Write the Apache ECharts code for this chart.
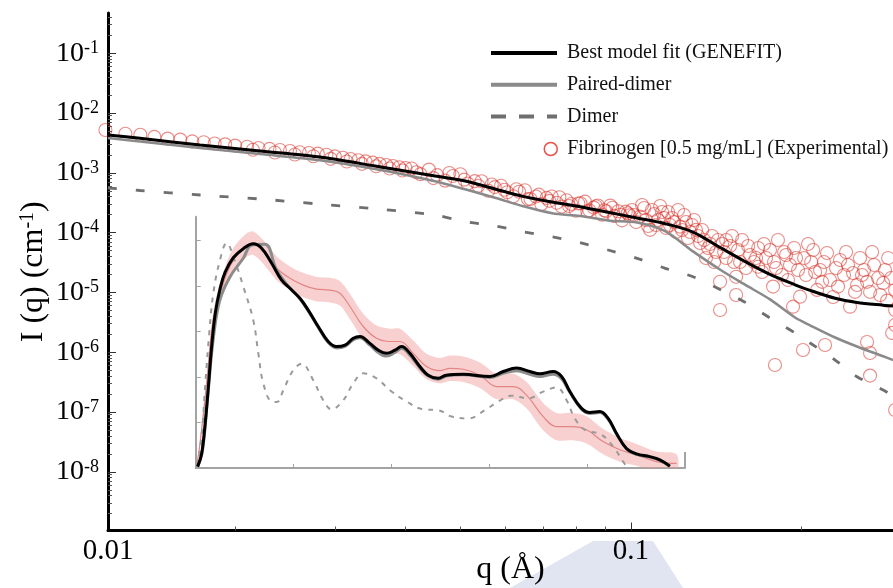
<!DOCTYPE html>
<html>
<head>
<meta charset="utf-8">
<script src="https://cdn.jsdelivr.net/npm/echarts@6/dist/echarts.min.js"></script>
<style>
  html, body { margin: 0; padding: 0; background: #fff; }
  #chart { width: 893px; height: 588px; }
</style>
</head>
<body>
<div id="chart"></div>
<script>
// ---- Scattering curves, I(q) in cm^-1 versus q in 1/Å ----
const modelQ = [0.01192, 0.01358, 0.01734, 0.02213, 0.02803, 0.03577, 0.04511, 0.05098, 0.05757, 0.0645,
  0.07261, 0.08135, 0.09118, 0.1026, 0.115, 0.1288, 0.1444, 0.1586, 0.1762, 0.1951,
  0.2074, 0.2296, 0.251, 0.2792, 0.2906];
const fitI = [4.287e-3, 3.776e-3, 2.917e-3, 2.314e-3, 1.852e-3, 1.275e-3, 8.842e-4, 7.293e-4, 5.359e-4, 4.031e-4,
  3.249e-4, 2.711e-4, 2.185e-4, 1.754e-4, 1.409e-4, 1.023e-4, 5.526e-5, 3.351e-5, 2.0e-5, 1.34e-5,
  1.08e-5, 7.965e-6, 6.752e-6, 6.109e-6, 5.923e-6];
const pairedDimerI = [3.819e-3, 3.338e-3, 2.598e-3, 2.062e-3, 1.637e-3, 1.136e-3, 7.209e-4, 5.298e-4, 3.819e-4, 2.764e-4,
  2.110e-4, 1.895e-4, 1.594e-4, 1.475e-4, 1.055e-4, 4.849e-5, 2.342e-5, 1.371e-5, 7.637e-6, 3.805e-6,
  2.817e-6, 1.761e-6, 1.245e-6, 8.54e-7, 7.40e-7];
const dimerI = [5.568e-4, 5.058e-4, 4.254e-4, 3.647e-4, 3.008e-4, 2.480e-4, 1.969e-4, 1.522e-4, 1.289e-4, 1.035e-4,
  8.54e-5, 6.78e-5, 5.117e-5, 3.717e-5, 2.529e-5, 1.830e-5, 1.097e-5, 6.99e-6, 3.732e-6, 2.095e-6,
  1.425e-6, 7.40e-7, 3.894e-7, 2.333e-7, 1.852e-7];

// Measured fibrinogen intensities (0.5 mg/mL)
const expQ = [
  0.0118, 0.0128, 0.0136, 0.0144, 0.0152, 0.0160, 0.0168, 0.0176, 0.0184, 0.0192,
  0.0200, 0.0210, 0.0220, 0.0230, 0.0240, 0.0250, 0.0260, 0.0270, 0.0280, 0.0290,
  0.0300, 0.0310, 0.0320, 0.0330, 0.0340, 0.0350, 0.0360, 0.0370, 0.0380, 0.0390, 0.0400,
  0.0215, 0.0235, 0.0255, 0.0275, 0.0295, 0.0315, 0.0335, 0.0355, 0.0375, 0.0395,
  0.0410, 0.0425, 0.0440, 0.0455, 0.0470, 0.0485, 0.0500, 0.0515, 0.0530, 0.0545,
  0.0560, 0.0575, 0.0590, 0.0605, 0.0620, 0.0635, 0.0650, 0.0665, 0.0680, 0.0695,
  0.0710, 0.0725, 0.0740, 0.0755, 0.0770, 0.0785, 0.0800, 0.0815, 0.0830, 0.0845,
  0.0860, 0.0875, 0.0890, 0.0905, 0.0920, 0.0935, 0.0950, 0.0965, 0.0980, 0.0995,
  0.0418, 0.0448, 0.0478, 0.0508, 0.0538, 0.0568, 0.0598, 0.0628, 0.0658, 0.0688,
  0.0718, 0.0748, 0.0778, 0.0808, 0.0838, 0.0868, 0.0898, 0.0928, 0.0958, 0.0988,
  0.1005, 0.1022, 0.1038, 0.1056, 0.1073, 0.1082, 0.1100, 0.1117, 0.1136, 0.1155,
  0.1173, 0.1183, 0.1202, 0.1222, 0.1242, 0.1262, 0.1283, 0.1304, 0.1326, 0.1348,
  0.1370, 0.1392, 0.1415, 0.1438, 0.1438, 0.1450, 0.1474, 0.1474, 0.1498, 0.1522,
  0.1535, 0.1535, 0.1547, 0.1573, 0.1598, 0.1625, 0.1651, 0.1679, 0.1679, 0.1706,
  0.1734, 0.1762, 0.1784, 0.1791, 0.1798, 0.1820, 0.1850, 0.1881, 0.1911, 0.1935,
  0.1943, 0.1975, 0.1991, 0.2015, 0.2024, 0.2057, 0.2100, 0.2134, 0.2160, 0.2195,
  0.2204, 0.2222, 0.2249, 0.2277, 0.2305, 0.2343, 0.2381, 0.2420, 0.2440, 0.2470,
  0.2511, 0.2541, 0.2583, 0.2615, 0.2615, 0.2647, 0.2647, 0.2647, 0.2691, 0.2735,
  0.2792, 0.2837, 0.2849, 0.2884, 0.2896, 0.2931, 0.2931, 0.2931, 0.2931,
  0.1013, 0.1047, 0.1064, 0.1090, 0.1108, 0.1127, 0.1145, 0.1164, 0.1193, 0.1212,
  0.1232, 0.1252, 0.1273, 0.1294, 0.1315, 0.1337, 0.1358, 0.1381, 0.1404, 0.1426,
  0.1462, 0.1510, 0.1560, 0.1612, 0.1665, 0.1719, 0.1806, 0.1866, 0.1896, 0.1959,
  0.2040, 0.2083, 0.2117, 0.2178, 0.2324, 0.2401, 0.2490, 0.2562, 0.2669, 0.2758, 0.2813
];
const expI = [
  5.2e-3, 4.49e-3, 4.32e-3, 3.98e-3, 3.73e-3, 3.59e-3, 3.35e-3, 3.24e-3, 3.09e-3, 2.99e-3,
  2.85e-3, 2.72e-3, 2.60e-3, 2.51e-3, 2.40e-3, 2.32e-3, 2.21e-3, 2.14e-3, 2.09e-3, 2.00e-3,
  1.88e-3, 1.78e-3, 1.70e-3, 1.62e-3, 1.55e-3, 1.48e-3, 1.41e-3, 1.35e-3, 1.30e-3, 1.24e-3, 1.20e-3,
  2.434e-3, 2.187e-3, 2.025e-3, 1.886e-3, 1.712e-3, 1.548e-3, 1.409e-3, 1.289e-3, 1.183e-3, 1.090e-3,
  1.180e-3, 9.49e-4, 1.131e-3, 9.13e-4, 7.39e-4, 8.85e-4, 9.47e-4, 6.63e-4, 7.25e-4, 7.23e-4,
  5.01e-4, 5.76e-4, 6.06e-4, 4.73e-4, 4.06e-4, 4.81e-4, 5.12e-4, 3.64e-4, 4.02e-4, 2.99e-4,
  3.80e-4, 4.01e-4, 3.15e-4, 2.72e-4, 3.48e-4, 3.00e-4, 2.32e-4, 3.10e-4, 3.29e-4, 2.35e-4,
  2.62e-4, 2.84e-4, 1.99e-4, 2.27e-4, 2.83e-4, 1.90e-4, 2.27e-4, 1.60e-4, 2.24e-4, 1.95e-4,
  1.020e-3, 8.15e-4, 9.93e-4, 7.68e-4, 6.08e-4, 6.37e-4, 5.22e-4, 5.30e-4, 3.63e-4, 4.31e-4,
  3.39e-4, 3.90e-4, 2.78e-4, 3.07e-4, 2.28e-4, 2.75e-4, 2.36e-4, 2.60e-4, 1.99e-4, 2.11e-4,
  2.39e-4, 1.50e-4, 1.85e-4, 2.58e-4, 1.29e-4, 1.11e-4, 2.05e-4, 1.62e-4, 2.21e-4, 1.19e-4,
  1.34e-4, 1.75e-4, 1.02e-4, 1.26e-4, 1.97e-4, 8.12e-5, 1.34e-4, 1.11e-4, 6.70e-5, 7.52e-5,
  5.53e-5, 8.77e-5, 4.74e-5, 1.51e-5, 5.08e-6, 6.45e-5, 3.76e-5, 7.52e-5, 5.97e-5, 3.22e-5,
  1.83e-5, 9.05e-6, 5.12e-5, 7.52e-5, 2.56e-5, 4.22e-5, 3.22e-5, 5.53e-5, 2.69e-5, 2.19e-5,
  3.76e-5, 5.12e-5, 1.25e-5, 3.22e-5, 6.11e-7, 7.52e-5, 1.95e-5, 4.22e-5, 2.87e-5, 5.77e-6,
  5.53e-5, 2.37e-5, 8.48e-6, 1.09e-6, 3.76e-5, 6.45e-5, 5.12e-5, 1.10e-5, 2.37e-5, 3.22e-5,
  1.32e-6, 4.56e-5, 1.61e-5, 8.38e-6, 2.56e-5, 3.48e-5, 1.95e-5, 2.87e-5, 5.77e-6, 2.11e-5,
  1.33e-5, 3.76e-5, 2.37e-5, 1.50e-5, 1.48e-6, 1.02e-5, 9.70e-7, 4.06e-7, 2.87e-5, 1.74e-5,
  1.44e-5, 7.29e-6, 3.76e-5, 1.74e-5, 2.10e-6, 5.08e-6, 2.85e-6, 1.08e-7, 1.10e-5,
  1.969e-4, 2.893e-4, 1.624e-4, 2.387e-4, 1.340e-4, 2.785e-4, 1.754e-4, 2.211e-4, 1.504e-4, 2.387e-4,
  1.105e-4, 1.504e-4, 1.023e-4, 1.624e-4, 8.77e-5, 1.105e-4, 3.76e-5, 6.45e-5, 3.22e-5, 7.52e-5,
  4.74e-5, 8.77e-5, 3.22e-5, 5.97e-5, 3.76e-5, 6.45e-5, 2.56e-5, 4.74e-5, 1.61e-5, 3.76e-5,
  1.95e-5, 3.22e-5, 2.19e-5, 1.50e-5, 1.25e-5, 4.74e-5, 1.02e-5, 1.95e-5, 4.74e-5, 9.05e-6, 2.37e-5
];

// ---- Inset (arbitrary units): [x, y] pairs ----
const insetFit = [[0.02,0.03],[0.06,0.30],[0.10,1.05],[0.13,1.8],[0.16,2.6],[0.20,3.4],[0.25,3.95],[0.30,4.3],
  [0.384,4.62],[0.486,4.82],[0.588,4.93],[0.674,4.83],[0.776,4.50],[0.878,4.13],[0.963,3.95],[1.065,3.73],
  [1.150,3.47],[1.252,3.11],[1.354,2.78],[1.440,2.67],[1.525,2.70],[1.610,2.85],[1.678,2.89],[1.780,2.74],
  [1.865,2.59],[1.951,2.52],[2.036,2.59],[2.104,2.67],[2.189,2.52],[2.291,2.23],[2.376,2.04],[2.478,1.97],
  [2.560,2.04],[2.733,2.06],[3.006,2.01],[3.142,2.12],[3.279,2.20],[3.415,2.12],[3.517,2.07],[3.653,2.12],
  [3.739,2.01],[3.824,1.68],[3.943,1.31],[4.028,1.22],[4.130,1.24],[4.215,1.09],[4.300,0.76],[4.402,0.43],
  [4.505,0.31],[4.641,0.25],[4.743,0.18],[4.845,0.04]];
const insetPairedDimer = [[0.02,0.03],[0.07,0.4],[0.12,1.5],[0.18,2.85],[0.248,3.7],[0.35,4.2],[0.486,4.61],
  [0.572,4.9],[0.708,4.92],[0.827,4.35],[0.963,3.95],[1.065,3.72],[1.150,3.45],[1.252,3.09],[1.354,2.76],
  [1.440,2.64],[1.525,2.67],[1.610,2.82],[1.678,2.86],[1.780,2.70],[1.865,2.54],[1.951,2.46],[2.036,2.54],
  [2.104,2.63],[2.189,2.48],[2.291,2.20],[2.376,2.02],[2.478,1.95],[2.560,2.02],[2.733,2.05],[3.006,1.99],
  [3.142,2.08],[3.279,2.14],[3.415,2.06],[3.517,2.01],[3.653,2.06],[3.739,1.96],[3.824,1.66],[3.943,1.29],
  [4.028,1.20],[4.130,1.22],[4.215,1.07],[4.300,0.75],[4.402,0.42],[4.505,0.30],[4.641,0.24],[4.743,0.17],
  [4.845,0.04]];
const insetDimer = [[0.02,0.03],[0.06,0.7],[0.10,1.9],[0.14,3.0],[0.18,3.84],[0.248,4.57],[0.316,4.94],
  [0.400,4.55],[0.486,3.99],[0.588,3.25],[0.640,2.52],[0.691,1.86],[0.776,1.46],[0.830,1.45],[0.895,1.71],
  [0.997,2.15],[1.083,2.29],[1.201,1.93],[1.303,1.49],[1.389,1.29],[1.508,1.49],[1.610,1.86],[1.712,2.08],
  [1.849,1.97],[1.985,1.71],[2.155,1.46],[2.325,1.29],[2.478,1.27],[2.615,1.13],[2.785,1.09],[2.955,1.27],
  [3.091,1.46],[3.228,1.59],[3.397,1.53],[3.551,1.68],[3.687,1.77],[3.790,1.49],[3.874,1.09],[3.977,0.84],
  [4.147,0.73],[4.266,0.47],[4.368,0.14],[4.402,0.03]];
const insetExpX = [0.01,0.044,0.112,0.180,0.282,0.384,0.521,0.588,0.690,0.827,0.963,1.099,1.236,1.372,1.474,
  1.576,1.712,1.849,1.985,2.087,2.223,2.359,2.495,2.597,2.733,2.904,3.075,3.244,3.381,3.551,3.687,3.857,
  3.994,4.163,4.334,4.505,4.709,4.913];
const insetExpY = [0.03,0.54,1.86,3.25,4.06,4.57,4.90,4.94,4.75,4.39,4.17,4.02,3.93,3.91,3.84,3.55,3.11,2.85,
  2.78,2.78,2.52,2.23,2.14,2.19,2.17,2.04,1.79,1.79,1.60,1.13,0.91,0.91,0.84,0.58,0.40,0.29,0.14,0.10];
const insetExpErr = [0.02,0.08,0.14,0.2,0.24,0.26,0.26,0.26,0.26,0.26,0.26,0.27,0.27,0.27,0.27,0.28,0.28,0.28,
  0.28,0.28,0.28,0.28,0.28,0.28,0.28,0.28,0.28,0.28,0.29,0.30,0.30,0.30,0.30,0.28,0.26,0.24,0.22,0.20];

// ---- Axes ----
const qRange = [0.011925, 0.2906];
const iRange = [1.043e-9, 0.47];
const qLabelValues = [0.011925, 0.1];
const qMajorTicks = [0.1];
const qMinorTicks = [0.02, 0.03, 0.04, 0.05, 0.06, 0.07, 0.08, 0.09, 0.2];
const iExponents = [-8, -7, -6, -5, -4, -3, -2, -1];
const insetRangeX = [0, 5];
const insetRangeY = [0, 5.523];

const SERIF = 'Liberation Serif';
const lg = Math.log10;

// minor decade ticks (2..9 x 10^n) on the intensity axis
const iMinorTicks = [];
for (let n = -9; n <= -1; n++) {
  for (let k = 2; k <= 9; k++) {
    const v = lg(k) + n;
    if (v > lg(iRange[0]) && v < lg(iRange[1])) iMinorTicks.push(v);
  }
}

const toLogPairs = (xs, ys) => xs.map((x, i) => [lg(x), lg(ys[i])]);

const chart = echarts.init(document.getElementById('chart'), null, { renderer: 'canvas' });

// shaded uncertainty band of the inset curve, drawn as one closed polygon
function renderBand(params, api) {
  if (params.dataIndex !== 0) return;
  const upper = [], lower = [];
  for (let i = 0; i < insetExpX.length; i++) {
    upper.push(api.coord([insetExpX[i], insetExpY[i] + insetExpErr[i]]));
    lower.push(api.coord([insetExpX[i], insetExpY[i] - insetExpErr[i]]));
  }
  return {
    type: 'polygon',
    shape: { points: upper.concat(lower.reverse()), smooth: 0.3 },
    style: { fill: 'rgba(242,150,150,0.45)', stroke: null }
  };
}

const hiddenSymbol = { opacity: 0 };

const option = {
  animation: false,
  backgroundColor: '#fff',
  textStyle: { fontFamily: SERIF },
  grid: [
    { left: 108, top: 13, right: 0, bottom: 57.5, containLabel: false, outerBoundsMode: 'none' },
    { left: 195.7, top: 216.7, width: 489.3, height: 251.3, containLabel: false, outerBoundsMode: 'none' }
  ],
  xAxis: [
    {
      type: 'value', gridIndex: 0, position: 'bottom', min: lg(qRange[0]), max: lg(qRange[1]),
      splitLine: { show: false },
      axisLine: { onZero: false, lineStyle: { color: '#000', width: 3 } },
      axisTick: { inside: true, length: 8, customValues: qMajorTicks.map(lg), lineStyle: { color: '#333', width: 1 } },
      axisLabel: {
        customValues: qLabelValues.map(lg),
        formatter: v => String(Number(Math.pow(10, v).toPrecision(1))),
        fontFamily: SERIF, fontSize: 29, color: '#000', margin: 6
      },
      name: 'q (Å)', nameLocation: 'middle', nameGap: 23, nameMoveOverlap: false,
      nameTextStyle: { fontFamily: SERIF, fontSize: 32, color: '#000', padding: [0, 0, 0, 20] }
    },
    {
      type: 'value', gridIndex: 0, position: 'bottom', min: lg(qRange[0]), max: lg(qRange[1]),
      splitLine: { show: false },
      axisLine: { show: false, onZero: false },
      axisTick: { inside: true, length: 4, customValues: qMinorTicks.map(lg), lineStyle: { color: '#555', width: 1 } },
      axisLabel: { show: false }
    },
    {
      type: 'value', gridIndex: 1, position: 'bottom', min: insetRangeX[0], max: insetRangeX[1],
      splitLine: { show: false },
      axisLine: { onZero: false, lineStyle: { color: '#a3a3a3', width: 2 } },
      axisTick: { inside: true, length: 4, customValues: [1, 2, 3, 4], lineStyle: { color: '#a3a3a3', width: 1 } },
      axisLabel: { show: false }
    },
    {
      type: 'value', gridIndex: 1, position: 'bottom', min: insetRangeX[0], max: insetRangeX[1],
      splitLine: { show: false },
      axisLine: { show: false, onZero: false },
      axisTick: { inside: true, length: 16, customValues: [5], lineStyle: { color: '#a3a3a3', width: 2 } },
      axisLabel: { show: false }
    }
  ],
  yAxis: [
    {
      type: 'value', gridIndex: 0, position: 'left', min: lg(iRange[0]), max: lg(iRange[1]),
      splitLine: { show: false },
      axisLine: { onZero: false, lineStyle: { color: '#000', width: 3 } },
      axisTick: { inside: true, length: 8, customValues: iExponents, lineStyle: { color: '#333', width: 1 } },
      axisLabel: {
        customValues: iExponents,
        formatter: v => '{b|10}{s|' + Math.round(v) + '}',
        margin: 9,
        rich: {
          b: { fontFamily: SERIF, fontSize: 28, lineHeight: 28, color: '#000' },
          s: { fontFamily: SERIF, fontSize: 18, lineHeight: 18, color: '#000', verticalAlign: 'top' }
        }
      },
      name: '{n|I (q) (cm}{s|-1}{n|)}', nameLocation: 'middle', nameRotate: 90, nameGap: 58,
      nameMoveOverlap: false,
      nameTextStyle: {
        rich: {
          n: { fontFamily: SERIF, fontSize: 32, lineHeight: 32, color: '#000' },
          s: { fontFamily: SERIF, fontSize: 20, lineHeight: 20, color: '#000', verticalAlign: 'top' }
        }
      }
    },
    {
      type: 'value', gridIndex: 0, position: 'left', min: lg(iRange[0]), max: lg(iRange[1]),
      splitLine: { show: false },
      axisLine: { show: false, onZero: false },
      axisTick: { inside: true, length: 4, customValues: iMinorTicks, lineStyle: { color: '#555', width: 1 } },
      axisLabel: { show: false }
    },
    {
      type: 'value', gridIndex: 1, position: 'left', min: insetRangeY[0], max: insetRangeY[1],
      splitLine: { show: false },
      axisLine: { onZero: false, lineStyle: { color: '#a3a3a3', width: 2 } },
      axisTick: { inside: true, length: 5, customValues: [1, 2, 3, 4, 5], lineStyle: { color: '#a3a3a3', width: 1 } },
      axisLabel: { show: false }
    }
  ],
  legend: [
    {
      orient: 'vertical', left: 489, top: 43, padding: 0,
      itemWidth: 66, itemHeight: 20, itemGap: 11.7,
      selectedMode: false,
      lineStyle: { width: 4 },
      itemStyle: hiddenSymbol,
      textStyle: { fontFamily: SERIF, fontSize: 20, color: '#111', padding: [0, 0, 0, 5] },
      data: [
        { name: 'Best model fit (GENEFIT)', itemStyle: hiddenSymbol },
        { name: 'Paired-dimer', itemStyle: hiddenSymbol },
        { name: 'Dimer', itemStyle: hiddenSymbol, lineStyle: { type: [15, 13] } }
      ]
    },
    {
      orient: 'vertical', left: 543.5, top: 139, padding: 0,
      itemWidth: 13, itemHeight: 13,
      selectedMode: false,
      textStyle: { fontFamily: SERIF, fontSize: 20, color: '#111', padding: [0, 0, 0, 5] },
      data: [
        { name: 'Fibrinogen [0.5 mg/mL] (Experimental)', icon: 'circle',
          itemStyle: { color: 'rgba(0,0,0,0)', borderColor: '#e3261d', borderWidth: 1.5 } }
      ]
    }
  ],
  graphic: [
    {
      type: 'polygon', z: -10, silent: true,
      shape: { points: [[593, 541], [653, 541], [683, 588], [510, 588]] },
      style: { fill: '#e1e5f1' }
    }
  ],
  series: [
    {
      name: 'Fibrinogen [0.5 mg/mL] (Experimental)', type: 'scatter',
      xAxisIndex: 0, yAxisIndex: 0, clip: false, z: 2,
      symbol: 'circle', symbolSize: 13,
      itemStyle: { color: 'rgba(0,0,0,0)', borderColor: 'rgba(214,45,36,0.68)', borderWidth: 1.1 },
      data: toLogPairs(expQ, expI)
    },
    {
      name: 'Dimer', type: 'line', xAxisIndex: 0, yAxisIndex: 0, z: 3,
      symbol: 'none', smooth: 0.3,
      lineStyle: { color: '#6f6f6f', width: 2.8, type: [9, 19] },
      itemStyle: { color: '#6f6f6f' },
      data: toLogPairs(modelQ, dimerI)
    },
    {
      name: 'Paired-dimer', type: 'line', xAxisIndex: 0, yAxisIndex: 0, z: 4,
      symbol: 'none', smooth: 0.3,
      lineStyle: { color: '#8a8a8a', width: 2.5 },
      itemStyle: { color: '#8a8a8a' },
      data: toLogPairs(modelQ, pairedDimerI)
    },
    {
      name: 'Best model fit (GENEFIT)', type: 'line', xAxisIndex: 0, yAxisIndex: 0, z: 5,
      symbol: 'none', smooth: 0.3,
      lineStyle: { color: '#000', width: 3 },
      itemStyle: { color: '#000' },
      data: toLogPairs(modelQ, fitI)
    },
    {
      name: 'inset-exp-band', type: 'custom', xAxisIndex: 2, yAxisIndex: 2, clip: true, silent: true,
      renderItem: renderBand,
      encode: { x: 0, y: 1 },
      data: insetExpX.map((x, i) => [x, insetExpY[i], insetExpErr[i]])
    },
    {
      name: 'inset-exp', type: 'line', xAxisIndex: 2, yAxisIndex: 2,
      symbol: 'none', smooth: 0.4,
      lineStyle: { color: '#e48585', width: 1.2 },
      data: insetExpX.map((x, i) => [x, insetExpY[i]])
    },
    {
      name: 'inset-dimer', type: 'line', xAxisIndex: 2, yAxisIndex: 2,
      symbol: 'none', smooth: 0.4,
      lineStyle: { color: '#9a9a9a', width: 2, type: [5, 6] },
      data: insetDimer
    },
    {
      name: 'inset-paired-dimer', type: 'line', xAxisIndex: 2, yAxisIndex: 2,
      symbol: 'none', smooth: 0.4,
      lineStyle: { color: '#8c8c8c', width: 3 },
      data: insetPairedDimer
    },
    {
      name: 'inset-fit', type: 'line', xAxisIndex: 2, yAxisIndex: 2,
      symbol: 'none', smooth: 0.4,
      lineStyle: { color: '#000', width: 3 },
      data: insetFit
    }
  ]
};

chart.setOption(option);
</script>
</body>
</html>
